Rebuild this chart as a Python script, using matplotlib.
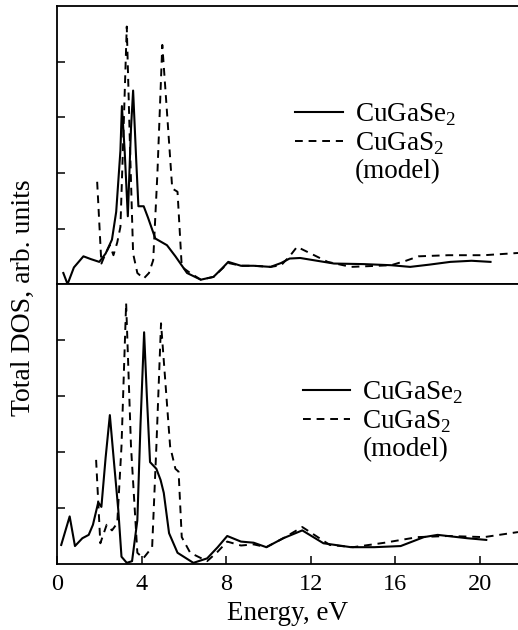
import matplotlib
matplotlib.use("Agg")
import matplotlib.pyplot as plt
from matplotlib.lines import Line2D

plt.rcParams["font.family"] = ["Liberation Serif", "DejaVu Serif"]
plt.rcParams["mathtext.fontset"] = "custom"
plt.rcParams["mathtext.rm"] = "Liberation Serif"

# top panel: CuGaSe2 (solid) and model CuGaS2 (dashed)
top_se_x = [0.3, 0.5, 0.8, 1.25, 1.6, 2.0, 2.3, 2.6, 2.8, 3.0, 3.07, 3.2, 3.35, 3.5, 3.6, 3.75,
            3.85, 4.1, 4.3, 4.65, 5.2, 5.6, 6.15, 6.8, 7.4, 7.8, 8.1, 8.7, 9.3, 10.1, 10.6, 11.0,
            11.5, 12.3, 13.1, 14.5, 15.8, 16.7, 17.6, 18.6, 19.6, 20.5]
top_se_y = [0.2, 0.0, 0.3, 0.5, 0.45, 0.4, 0.55, 0.8, 1.3, 2.4, 3.2, 2.4, 1.22, 2.8, 3.48, 2.2,
            1.4, 1.4, 1.2, 0.82, 0.7, 0.5, 0.2, 0.08, 0.13, 0.28, 0.4, 0.33, 0.33, 0.31, 0.38, 0.46,
            0.47, 0.42, 0.37, 0.36, 0.34, 0.31, 0.35, 0.4, 0.42, 0.4]
top_s_x = [1.9, 2.1, 2.3, 2.5, 2.67, 2.85, 3.0, 3.15, 3.3, 3.45, 3.6, 3.8, 4.1, 4.35, 4.55, 4.75,
           4.98, 5.2, 5.45, 5.7, 5.9, 6.3, 6.8, 7.4, 8.1, 8.7, 9.3, 10.1, 10.6, 11.0, 11.35, 12.0,
           12.8, 13.9, 15.8, 16.5, 17.1, 18.5, 20.2, 21.8]
top_s_y = [1.84, 0.37, 0.55, 0.7, 0.52, 0.75, 1.03, 2.8, 4.63, 2.5, 0.55, 0.2, 0.1, 0.2, 0.43, 2.0,
           4.3, 3.1, 1.72, 1.66, 0.31, 0.2, 0.08, 0.13, 0.38, 0.33, 0.33, 0.31, 0.34, 0.5, 0.67, 0.55,
           0.4, 0.31, 0.34, 0.42, 0.5, 0.52, 0.52, 0.56]

# bottom panel
bot_se_x = [0.2, 0.6, 0.85, 1.2, 1.5, 1.7, 1.95, 2.1, 2.3, 2.5, 2.7, 2.9, 3.05, 3.3, 3.55, 3.8,
            3.95, 4.12, 4.25, 4.4, 4.7, 4.9, 5.05, 5.3, 5.7, 6.45, 7.1, 7.6, 8.05, 8.7, 9.3, 9.9,
            10.7, 11.6, 12.6, 13.9, 15.0, 16.25, 17.35, 18.0, 19.4, 20.3]
bot_se_y = [0.34, 0.85, 0.32, 0.46, 0.52, 0.7, 1.1, 1.02, 1.9, 2.66, 1.8, 0.96, 0.13, 0.02, 0.05, 0.78,
            2.5, 4.14, 3.0, 1.82, 1.7, 1.5, 1.27, 0.55, 0.2, 0.02, 0.1, 0.3, 0.5, 0.4, 0.38, 0.3,
            0.46, 0.6, 0.37, 0.3, 0.3, 0.32, 0.48, 0.52, 0.46, 0.43]
bot_s_x = [1.85, 2.05, 2.35, 2.6, 2.85, 3.05, 3.27, 3.5, 3.8, 4.08, 4.5, 4.7, 4.92, 5.35, 5.6, 5.75,
           5.9, 6.3, 7.1, 7.6, 8.05, 8.7, 9.3, 9.9, 10.7, 11.6, 12.9, 14.0, 15.5, 17.05, 18.5, 20.2, 21.8]
bot_s_y = [1.86, 0.37, 0.7, 0.6, 0.73, 2.1, 4.66, 2.1, 0.2, 0.1, 0.3, 2.1, 4.3, 2.1, 1.7, 1.65,
           0.48, 0.2, 0.05, 0.22, 0.4, 0.33, 0.35, 0.3, 0.46, 0.66, 0.34, 0.3, 0.38, 0.48, 0.5, 0.48, 0.57]

xticks = [0, 4, 8, 12, 16, 20]
yticks = [1, 2, 3, 4]
labels = ["CuGaSe$_2$", "CuGaS$_2$", "(model)"]

fig = plt.figure(figsize=(5.18, 6.30), dpi=100)
ax1 = fig.add_axes([0.110, 0.549, 0.890, 0.4415])
ax2 = fig.add_axes([0.110, 0.1048, 0.890, 0.4442])

dash = (0, (4, 3.0))
for ax, (sx, sy, dx, dy) in zip([ax1, ax2], [(top_se_x, top_se_y, top_s_x, top_s_y),
                                               (bot_se_x, bot_se_y, bot_s_x, bot_s_y)]):
    ax.plot(sx, sy, color="black", lw=1.5)
    ax.plot(dx, dy, color="black", lw=1.4, linestyle=dash)
    ax.set_xlim(0, 21.8)
    ax.set_ylim(0, 5)
    ax.set_yticks(yticks)
    ax.set_yticklabels([])
    ax.spines["right"].set_visible(False)
    for s in ax.spines.values():
        s.set_linewidth(1.3)
    ax.tick_params(direction="in", length=6, width=1.1, labelsize=17.5, pad=7.5)

    handles = [Line2D([], [], color="black", lw=1.5),
               Line2D([], [], color="black", lw=1.4, linestyle=dash),
               Line2D([], [], color="none")]
    ax.legend(handles, labels, frameon=False, fontsize=19.5, handlelength=1.75,
              handletextpad=0.45, labelspacing=0.08, borderpad=0, borderaxespad=0,
              loc="upper left",
              bbox_to_anchor=(0.517, 0.655) if ax is ax1 else (0.533, 0.658))

ax1.set_xticks([])
ax2.set_xticks(xticks)
ax2.set_xlabel("Energy, eV", fontsize=19.5, labelpad=4)
fig.text(0.046, 0.528, "Total DOS, arb. units", rotation=90, fontsize=20,
         ha="center", va="center")

fig.savefig("out.png", dpi=100)
